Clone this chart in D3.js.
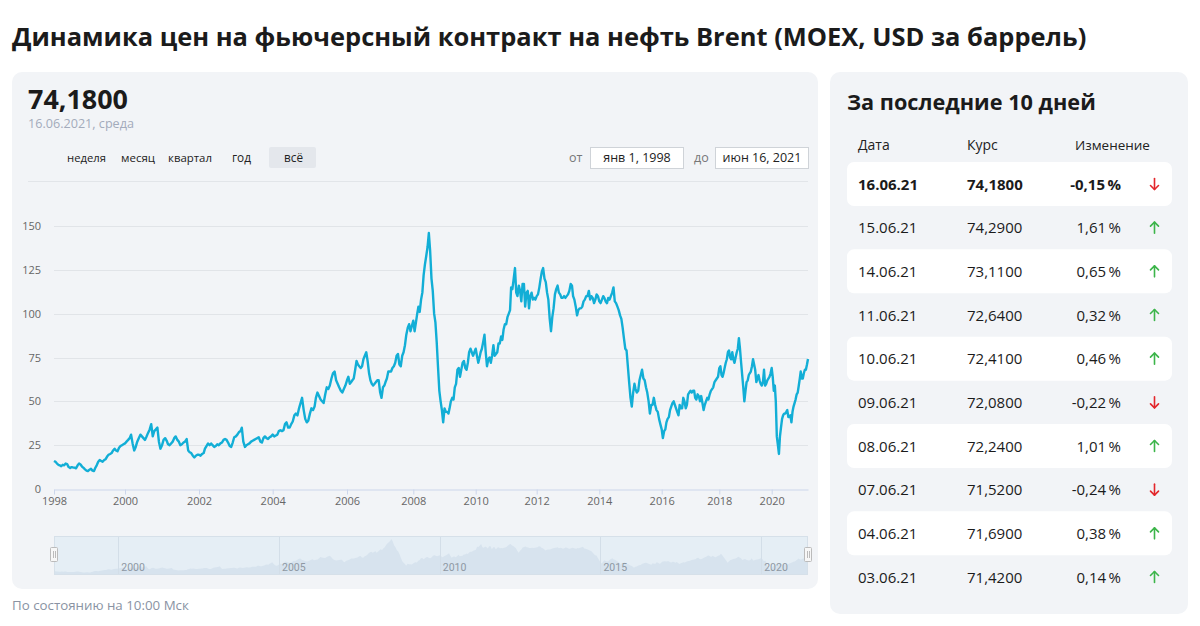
<!DOCTYPE html>
<html><head><meta charset="utf-8">
<script src="https://cdn.jsdelivr.net/npm/d3@7"></script>
<style>
body{margin:0;background:#fff;}
svg{display:block;font-family:"Open Sans","Noto Sans",sans-serif;}
</style></head><body>
<svg id="c" width="1200" height="626"></svg>
<script>
// ---- DATA (semi-monthly readings: 1st and 16th of each month) ----
const p1998=[16,15.5,14.5,13.8,13.5,13,13.8,13.5,14.5,14.2,12.5,12,12.5,12.3,12.2,11.8,13.5,14.5,14,12.8,12,11.2,10.5,10.2];
const p1999=[11,11.5,10.5,10.2,12,13.5,15.5,16.5,16,15.5,16.5,17,18.5,19.5,20,20.5,22,23,22,21.5,23.5,24.5,25,25.5];
const p2000=[26,27,28,29,31,26,22,24,27,29,31,30,29,28,30,32,34,37,30,33,34,35,27,23];
const p2001=[25,28,29,27.5,25.5,25,26,27,29,30,28,27,25,25.5,26.5,27,28.5,22,21,20.5,19,18,19,19.5];
const p2002=[19.5,19,20,20.5,23,24.5,26,25,26,25,24,24.5,25.5,25,26,26.5,28,28.5,28,26.5,24.5,24,26.5,29.5];
const p2003=[30,31,32.5,33,35,27,24,25,25.5,26,27,27.5,28,28.5,29,29.5,27,26.5,29,30,29,28.5,29.5,30];
const p2004=[31,30,30.5,31,33,33.5,33,33.5,37,38,35,35,37,38.5,42,43,42,46,49,52,45,40,38,39];
const p2005=[43,46,45,47,52,55,53,51,50,49,54,58,57,59,63,66,67,62,60,58,56,55,57,59];
const p2006=[62,64,60,61,62,63,68,73,71,70,69,70,74,76,78,73,66,62,60,59,60,61,62,62];
const p2007=[55,52,58,59,61,63,67,67,67,69,70,72,76,77,71,70,76,78,82,88,92,94,90,93];
const p2008=[96,90,95,100,104,101,108,112,122,128,133,138,146,136,120,113,100,95,84,70,56,50,45,38];
const p2009=[46,44,44,43,46,50,52,51,58,60,68,69,64,68,72,73,69,68,72,78,80,78,76,78];
const p2010=[80,76,72,75,78,80,84,88,78,70,74,75,72,76,82,76,77,78,83,83,87,85,91,94];
const p2011=[94,98,100,102,115,114,120,126,112,110,116,113,107,117,117,104,112,113,103,110,112,108,109,108];
const p2012=[110,111,115,120,124,126,120,118,112,108,97,90,98,103,111,114,116,112,111,109,109,110,109,110];
const p2013=[111,113,117,116,110,108,104,99,102,103,103,104,107,108,110,110,113,108,110,109,106,108,111,110];
const p2014=[107,106,108,110,109,107,106,109,108,110,112,115,107,106,104,102,99,97,92,86,80,79,70,61];
const p2015=[52,47,55,60,57,55,56,62,65,68,63,62,58,55,50,43,48,48,52,48,45,44,40,37];
const p2016=[34,29,33,34,38,40,41,45,47,49,50,48,46,44,42,48,46,46,52,50,46,48,54,55];
const p2017=[56,55,56,56,52,51,54,53,50,53,49,45,48,50,52,51,54,56,57,58,61,62,63,64];
const p2018=[69,70,65,64,66,69,72,74,78,79,75,74,78,74,72,75,78,80,86,80,72,65,58,50];
const p2019=[56,61,62,65,66,67,70,74,71,68,61,63,65,62,60,59,61,68,59,60,62,63,64,66];
const p2020=[69,64,56,59,50,30,25,20,30,35,40,42,43,43,44,45,41,41,42,38,44,47,49,51];
const p2021=[54,55,59,63,67,63,63,66,68,68,71,74.18];

const tickYears=[1998,2000,2002,2004,2006,2008,2010,2012,2014,2016,2018,2020];
const yTicks=[0,25,50,75,100,125,150];
const navYears=[2000,2005,2010,2015,2020];
const rangeButtons=["неделя","месяц","квартал","год","всё"];
const tableDates=["16.06.21","15.06.21","14.06.21","11.06.21","10.06.21","09.06.21","08.06.21","07.06.21","04.06.21","03.06.21"];
const tableRates=["74,1800","74,2900","73,1100","72,6400","72,4100","72,0800","72,2400","71,5200","71,6900","71,4200"];
const tableChanges=[-0.15,1.61,0.65,0.32,0.46,-0.22,1.01,-0.24,0.38,0.14];

// ---- build series ----
const allPrices=[].concat(p1998,p1999,p2000,p2001,p2002,p2003,p2004,p2005,p2006,p2007,p2008,p2009,p2010,p2011,p2012,p2013,p2014,p2015,p2016,p2017,p2018,p2019,p2020,p2021);
const series=allPrices.map((v,i)=>({date:new Date(1998+Math.floor(i/24),Math.floor((i%24)/2),i%2?16:1),v}));
const firstDate=series[0].date, lastDate=series[series.length-1].date;

const svg=d3.select("#c");
const panelFill="#f2f4f7";

function fit(sel,target){const w=sel.node().getComputedTextLength();const fs=+sel.attr("font-size");sel.attr("font-size",fs*target/w);return sel;}

// title
fit(svg.append("text").attr("x",12).attr("y",46).attr("font-size",28).attr("font-weight",700).attr("fill","#1b1b1b")
  .text("Динамика цен на фьючерсный контракт на нефть Brent (MOEX, USD за баррель)"),1075);

// panels
svg.append("rect").attr("x",12).attr("y",72).attr("width",806).attr("height",517).attr("rx",10).attr("fill",panelFill);
svg.append("rect").attr("x",830).attr("y",72).attr("width",358).attr("height",542).attr("rx",10).attr("fill",panelFill);

// header value
fit(svg.append("text").attr("x",28).attr("y",109).attr("font-size",28).attr("font-weight",700).attr("fill","#1b1b1b").text(tableRates[0]),100);
fit(svg.append("text").attr("x",28).attr("y",128).attr("font-size",13).attr("fill","#a3abbb").text("16.06.2021, среда"),106);

// range buttons
const btnX=[67,121,168,232,284];
const btnW=[39,34,44,19,19];
svg.append("rect").attr("x",269).attr("y",147).attr("width",47).attr("height",21).attr("rx",2).attr("fill","#e4e7ec");
rangeButtons.forEach((b,i)=>{
  fit(svg.append("text").attr("x",btnX[i]).attr("y",162).attr("font-size",12.5).attr("fill","#222").text(b),btnW[i]);
});
// date inputs
svg.append("text").attr("x",569).attr("y",162).attr("font-size",12.5).attr("fill","#777").text("от");
svg.append("rect").attr("x",590.5).attr("y",147.5).attr("width",93).attr("height",21).attr("fill","#fff").attr("stroke","#cfd3d8");
svg.append("text").attr("x",637).attr("y",162).attr("text-anchor","middle").attr("font-size",12.5).attr("fill","#222").text("янв 1, 1998");
svg.append("text").attr("x",694).attr("y",162).attr("font-size",12.5).attr("fill","#777").text("до");
svg.append("rect").attr("x",715.5).attr("y",147.5).attr("width",93).attr("height",21).attr("fill","#fff").attr("stroke","#cfd3d8");
svg.append("text").attr("x",762).attr("y",162).attr("text-anchor","middle").attr("font-size",12.5).attr("fill","#222").text("июн 16, 2021");
svg.append("line").attr("x1",28).attr("x2",808).attr("y1",181.5).attr("y2",181.5).attr("stroke","#e2e5e9");

// ---- main chart ----
const xDomain=tickYears.map(y=>new Date(y,0,1)).concat([lastDate]);
const xRange=[54,125,199,272.7,347,413.3,475.7,536.7,599.3,661.7,719.3,771.7,808];
const x=d3.scaleTime().domain(xDomain).range(xRange);
const y=d3.scaleLinear().domain([0,150]).range([489,226]);

svg.append("g").selectAll("line").data(yTicks.filter(t=>t>0)).join("line")
  .attr("x1",54).attr("x2",808).attr("y1",d=>Math.round(y(d))+0.5).attr("y2",d=>Math.round(y(d))+0.5)
  .attr("stroke","#e1e4e8");

const yAxis=svg.append("g").attr("transform","translate(41,0)")
  .call(d3.axisLeft(y).tickValues(yTicks).tickSize(0).tickPadding(0));
yAxis.select(".domain").remove();
yAxis.selectAll("text").attr("font-size",11).attr("fill","#666").attr("font-family","'Open Sans',sans-serif");

const xAxis=svg.append("g").attr("transform","translate(0,489.5)")
  .call(d3.axisBottom(x).tickValues(tickYears.map(t=>new Date(t,0,1))).tickFormat(d3.timeFormat("%Y")).tickSize(5).tickSizeOuter(0).tickPadding(3));
xAxis.select(".domain").attr("stroke","#ccd6eb");
xAxis.selectAll(".tick line").attr("stroke","#ccd6eb");
xAxis.selectAll("text").attr("font-size",11).attr("fill","#666").attr("font-family","'Open Sans',sans-serif");

svg.append("path").datum(series)
  .attr("d",d3.line().x(d=>x(d.date)).y(d=>y(d.v)))
  .attr("fill","none").attr("stroke","#12aed6").attr("stroke-width",2.4).attr("stroke-linejoin","round");

// ---- navigator ----
const xn=d3.scaleTime().domain([firstDate,lastDate]).range([54,808]);
const yn=d3.scaleLinear().domain([0,150]).range([575,538]);
svg.append("rect").attr("x",54).attr("y",536).attr("width",754).attr("height",39).attr("fill","#e5eef5");
svg.append("path").datum(series)
  .attr("d",d3.area().x(d=>xn(d.date)).y0(575).y1(d=>yn(d.v)))
  .attr("fill","#d7e3ee");
svg.append("g").selectAll("line").data(navYears).join("line")
  .attr("x1",d=>Math.round(xn(new Date(d,0,1)))+0.5).attr("x2",d=>Math.round(xn(new Date(d,0,1)))+0.5)
  .attr("y1",536).attr("y2",575).attr("stroke","#d3dee8");
svg.append("g").selectAll("text").data(navYears).join("text")
  .attr("x",d=>xn(new Date(d,0,1))+3).attr("y",571).attr("font-size",10.5).attr("fill","#8e98a3")
  .attr("font-family","'Liberation Sans Narrow','Roboto',sans-serif").text(d=>d);
svg.append("rect").attr("x",54.5).attr("y",536.5).attr("width",753).attr("height",38).attr("fill","none").attr("stroke","#d6e0e9");
[54,808].forEach(hx=>{
  svg.append("rect").attr("x",hx-3.5).attr("y",547.5).attr("width",7).attr("height",14).attr("rx",1).attr("fill","#f7f7f7").attr("stroke","#bbb");
  svg.append("line").attr("x1",hx-0.5).attr("x2",hx-0.5).attr("y1",551).attr("y2",558).attr("stroke","#bbb");
  svg.append("line").attr("x1",hx+1.5).attr("x2",hx+1.5).attr("y1",551).attr("y2",558).attr("stroke","#bbb");
});

// footer
fit(svg.append("text").attr("x",12).attr("y",610).attr("font-size",13).attr("fill","#8a93a3").text("По состоянию на 10:00 Мск"),177);

// ---- right table ----
fit(svg.append("text").attr("x",847).attr("y",110).attr("font-size",22).attr("font-weight",700).attr("fill","#1b1b1b").text("За последние 10 дней"),249);
svg.append("text").attr("x",858).attr("y",150).attr("font-size",14).attr("fill","#222").text("Дата");
svg.append("text").attr("x",967).attr("y",150).attr("font-size",14).attr("fill","#222").text("Курс");
fit(svg.append("text").attr("x",1075).attr("y",150).attr("font-size",14).attr("fill","#222").text("Изменение"),75);

const rowY=d3.scaleLinear().domain([0,9]).range([184,577]);
tableDates.forEach((d,i)=>{
  const cy=rowY(i);
  if(i%2===0) svg.append("rect").attr("x",847).attr("y",cy-22).attr("width",325).attr("height",44).attr("rx",7).attr("fill","#fff");
  const fw=i===0?700:400;
  svg.append("text").attr("x",858).attr("y",cy+5.5).attr("font-size",15).attr("font-weight",fw).attr("fill","#1b1b1b").text(d);
  svg.append("text").attr("x",967).attr("y",cy+5.5).attr("font-size",15).attr("font-weight",fw).attr("fill","#1b1b1b").text(tableRates[i]);
  const c=tableChanges[i];
  svg.append("text").attr("x",1121).attr("y",cy+5.5).attr("text-anchor","end").attr("font-size",15).attr("font-weight",fw).attr("fill","#1b1b1b")
    .text(d3.format(".2f")(c).replace("\u2212","-").replace(".",",")+"\u2009%");
  const up=c>0, col=up?"#3cb54a":"#e3262b", ax=1154.5;
  const g=svg.append("g").attr("stroke",col).attr("stroke-width",1.6).attr("fill","none").attr("stroke-linecap","round").attr("stroke-linejoin","round");
  g.append("line").attr("x1",ax).attr("x2",ax).attr("y1",cy-5.5).attr("y2",cy+5.5);
  if(up) g.append("path").attr("d",`M${ax-4},${cy-1.5}L${ax},${cy-5.5}L${ax+4},${cy-1.5}`);
  else g.append("path").attr("d",`M${ax-4},${cy+1.5}L${ax},${cy+5.5}L${ax+4},${cy+1.5}`);
});
</script>
</body></html>
